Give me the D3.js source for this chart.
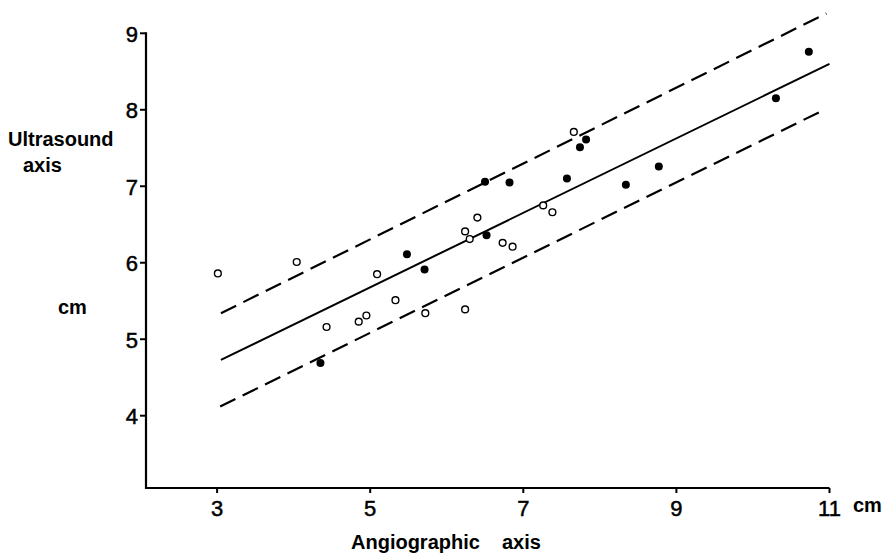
<!DOCTYPE html>
<html>
<head>
<meta charset="utf-8">
<script src="https://cdn.jsdelivr.net/npm/d3@7"></script>
<style>
  body { margin: 0; background: #fff; }
  svg { display: block; }
  text { font-family: "Liberation Sans", Arial, sans-serif; fill: #000; }
  .lbl { font-weight: bold; font-size: 20px; }
  .num { font-size: 22px; stroke: #000; stroke-width: 0.5px; }
</style>
</head>
<body>
<svg id="chart" width="888" height="554"></svg>
<script>
// open circles (angiographic cm, ultrasound cm)
var openX = [3.01, 4.04, 4.43, 4.85, 4.95, 5.09, 5.33, 5.72, 6.24, 6.24, 6.30, 6.40, 6.73, 6.86, 7.26, 7.38, 7.66];
var openY = [5.86, 6.01, 5.16, 5.23, 5.31, 5.85, 5.51, 5.34, 5.39, 6.41, 6.31, 6.59, 6.26, 6.21, 6.75, 6.66, 7.71];
// filled circles
var filledX = [4.35, 5.48, 5.71, 6.50, 6.52, 6.82, 7.57, 7.74, 7.82, 8.34, 8.77, 10.30, 10.73];
var filledY = [4.69, 6.11, 5.91, 7.06, 6.36, 7.05, 7.10, 7.51, 7.61, 7.02, 7.26, 8.15, 8.76];
// regression line and limits, given by their end points
var fitLine = [[3.05, 4.73], [11.0, 8.60]];
var upperLine = [[3.05, 5.34], [10.96, 9.26]];
var lowerLine = [[3.04, 4.12], [10.95, 8.01]];

var xTicks = [3, 5, 7, 9, 11];
var yTicks = [4, 5, 6, 7, 8, 9];

var svg = d3.select("#chart");

var x = d3.scaleLinear().domain([3, 11]).range([217.1, 829.5]);
var y = d3.scaleLinear().domain([4, 9]).range([415.7, 33.3]);

var left = 146, bottom = 488;

// axes
var xAxis = svg.append("g").attr("transform", "translate(0," + bottom + ")");
xAxis.append("line")
  .attr("x1", left).attr("x2", x(11))
  .attr("stroke", "#000").attr("stroke-width", 2.2);
xAxis.selectAll(".tk").data(xTicks).enter().append("line")
  .attr("x1", function(d) { return x(d); })
  .attr("x2", function(d) { return x(d); })
  .attr("y1", 0).attr("y2", 5)
  .attr("stroke", "#000").attr("stroke-width", 2);
xAxis.selectAll(".tl").data(xTicks).enter().append("text")
  .attr("class", "num")
  .attr("x", function(d) { return x(d); })
  .attr("y", 28)
  .attr("text-anchor", "middle")
  .text(function(d) { return d; });

var yAxis = svg.append("g").attr("transform", "translate(" + left + ",0)");
yAxis.append("line")
  .attr("y1", y(9) - 1).attr("y2", bottom + 1)
  .attr("stroke", "#000").attr("stroke-width", 2.2);
yAxis.selectAll(".tk").data(yTicks).enter().append("line")
  .attr("y1", function(d) { return y(d); })
  .attr("y2", function(d) { return y(d); })
  .attr("x1", -6).attr("x2", 0)
  .attr("stroke", "#000").attr("stroke-width", 2);
yAxis.selectAll(".tl").data(yTicks).enter().append("text")
  .attr("class", "num")
  .attr("x", -8)
  .attr("y", function(d) { return y(d) + 8.5; })
  .attr("text-anchor", "end")
  .text(function(d) { return d; });

// axis titles
svg.append("text").attr("class", "lbl").attr("x", 8).attr("y", 146).text("Ultrasound");
svg.append("text").attr("class", "lbl").attr("x", 23).attr("y", 172).text("axis");
svg.append("text").attr("class", "lbl").attr("x", 58).attr("y", 314).text("cm");
svg.append("text").attr("class", "lbl").attr("x", 351).attr("y", 549).text("Angiographic");
svg.append("text").attr("class", "lbl").attr("x", 502).attr("y", 549).text("axis");
svg.append("text").attr("class", "lbl").attr("x", 853).attr("y", 512).text("cm");

// lines
var line = d3.line()
  .x(function(d) { return x(d[0]); })
  .y(function(d) { return y(d[1]); });

svg.append("path").datum(fitLine)
  .attr("d", line).attr("fill", "none")
  .attr("stroke", "#000").attr("stroke-width", 2);
[upperLine, lowerLine].forEach(function(l) {
  svg.append("path").datum(l)
    .attr("d", line).attr("fill", "none")
    .attr("stroke", "#000").attr("stroke-width", 2.2)
    .attr("stroke-dasharray", "17,8");
});

// points
svg.append("g").selectAll("circle")
  .data(d3.zip(openX, openY))
  .enter().append("circle")
  .attr("cx", function(d) { return x(d[0]); })
  .attr("cy", function(d) { return y(d[1]); })
  .attr("r", 3.4)
  .attr("fill", "#fff")
  .attr("stroke", "#000").attr("stroke-width", 1.4);

svg.append("g").selectAll("circle")
  .data(d3.zip(filledX, filledY))
  .enter().append("circle")
  .attr("cx", function(d) { return x(d[0]); })
  .attr("cy", function(d) { return y(d[1]); })
  .attr("r", 4)
  .attr("fill", "#000");
</script>
</body>
</html>
